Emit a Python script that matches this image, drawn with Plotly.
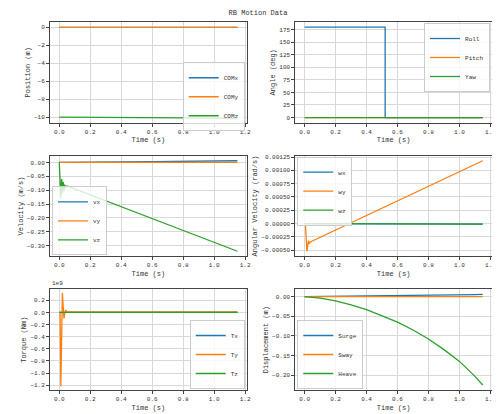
import plotly.graph_objects as go
from plotly.subplots import make_subplots

C = ['#1f77b4', '#ff7f0e', '#2ca02c']
t_lin = [0.0, 0.2, 0.4, 0.6, 0.8, 1.0, 1.15]
com_x = [0.0, 0.0, 0.0, 0.0, 0.0, 0.0, 0.0]
com_y = [0.0, 0.0, 0.0, 0.0, 0.0, 0.0, 0.0]
com_z = [-10.0, -10.0, -10.02, -10.04, -10.07, -10.11, -10.15]

t_ang = [0.0, 0.52, 0.5201, 1.15]
roll = [180, 180, 0, 0]
pitch = [0, 0, 0, 0]
yaw = [0, 0, 0, 0]

t_v = [0.0, 0.005, 0.01, 0.015, 0.02, 0.025, 0.03, 0.035, 0.04, 0.05, 0.2, 0.4, 0.6, 0.8, 1.0, 1.15]
vx = [0, 0, 0, 0, 0, 0, 0, 0, 0, 0, 0.001, 0.002, 0.003, 0.004, 0.005, 0.006]
vy = [0, 0, 0, 0, 0, 0, 0, 0, 0, 0, 0, 0, 0, 0, 0, 0]
vz = [0, -0.05, -0.13, -0.06, -0.11, -0.07, -0.10, -0.08, -0.09, -0.085, -0.117, -0.160, -0.202, -0.245, -0.288, -0.32]

t_w = [0.0, 0.005, 0.015, 0.025, 0.03, 0.04, 1.15]
wx = [0, 0, 0, 0, 0, 0, -0.00001]
wy = [0, 0, -0.00052, -0.00032, -0.00037, -0.00034, 0.00118]
wz = [0, 0, 0, 0, 0, 0, -0.00001]

t_T = [0.0, 0.005, 0.01, 0.02, 0.03, 0.04, 0.05, 0.06, 1.15]
Tx = [0, 0, 0, 0, 0, 0, 0, 0, 0]
Ty = [0, 0, -1.22, 0.32, -0.10, 0.04, 0.01, 0.01, 0.01]
Tz = [0, 0, 0, 0, 0, 0, 0, 0, 0]

t_d = [0.0, 0.1, 0.2, 0.3, 0.4, 0.5, 0.6, 0.7, 0.8, 0.9, 1.0, 1.1, 1.15]
surge = [0, 0.0003, 0.0007, 0.001, 0.0015, 0.002, 0.0025, 0.003, 0.0035, 0.004, 0.0045, 0.005, 0.0055]
sway = [0]*13
heave = [0, -0.004, -0.011, -0.021, -0.033, -0.048, -0.065, -0.085, -0.108, -0.135, -0.165, -0.203, -0.225]

F = "Liberation Mono"
fig = make_subplots(rows=3, cols=2, horizontal_spacing=0.11, vertical_spacing=0.09)
panels = [
    (1, 1, t_lin, [com_x, com_y, com_z], ['COMx', 'COMy', 'COMz'], 'Position (m)', dict(x=0.99, y=0.6, xanchor='right')),
    (1, 2, t_ang, [roll, pitch, yaw], ['Roll', 'Pitch', 'Yaw'], 'Angle (deg)', dict(x=0.99, y=0.99, xanchor='right')),
    (2, 1, t_v, [vx, vy, vz], ['vx', 'vy', 'vz'], 'Velocity (m/s)', dict(x=0.01, y=0.01, xanchor='left', yanchor='bottom')),
    (2, 2, t_w, [wx, wy, wz], ['wx', 'wy', 'wz'], 'Angular Velocity (rad/s)', dict(x=0.01, y=0.99, xanchor='left')),
    (3, 1, t_T, [Tx, Ty, Tz], ['Tx', 'Ty', 'Tz'], 'Torque (Nm)', dict(x=0.99, y=0.01, xanchor='right', yanchor='bottom')),
    (3, 2, t_d, [surge, sway, heave], ['Surge', 'Sway', 'Heave'], 'Displacement (m)', dict(x=0.01, y=0.01, xanchor='left', yanchor='bottom')),
]
for i, (r, c, t, ys, names, ylab, lg) in enumerate(panels):
    for k in range(3):
        fig.add_trace(go.Scatter(x=t, y=ys[k], mode='lines', name=names[k],
                                 line=dict(color=C[k], width=1.3), legend=f'legend{i+1 if i else ""}'), row=r, col=c)
    fig.update_xaxes(row=r, col=c, title_text='Time (s)', range=[-0.06, 1.21], dtick=0.2, tickformat='.1f')
    fig.update_yaxes(row=r, col=c, title_text=ylab)
    dom_x = fig.get_subplot(r, c).xaxis.domain
    dom_y = fig.get_subplot(r, c).yaxis.domain
    lx = dom_x[0] + lg['x'] * (dom_x[1] - dom_x[0])
    ly = dom_y[0] + lg['y'] * (dom_y[1] - dom_y[0])
    fig.update_layout(**{f'legend{i+1 if i else ""}': dict(x=lx, y=ly, xanchor=lg.get('xanchor', 'left'),
                       yanchor=lg.get('yanchor', 'top'), bgcolor='rgba(255,255,255,0.8)',
                       bordercolor='#ccc', borderwidth=1, font=dict(size=6, family=F),
                       tracegroupgap=0, itemwidth=30, entrywidth=0)})

fig.update_yaxes(row=1, col=1, range=[-10.6, 0.6], dtick=2)
fig.update_yaxes(row=3, col=1, range=[-1.28, 0.38], dtick=0.2, tickformat='.1f')
fig.update_yaxes(row=2, col=2, tickformat='.5f', dtick=0.00025)
fig.update_yaxes(row=1, col=2, dtick=25)
fig.update_yaxes(row=2, col=1, tickformat='.2f', dtick=0.05)
fig.update_yaxes(row=3, col=2, tickformat='.2f', dtick=0.05)
fig.update_xaxes(showgrid=True, gridcolor='#d9d9d9', showline=True, linecolor='#444', mirror=True,
                 ticks='outside', ticklen=3, zeroline=False, title_standoff=2, tickfont=dict(size=6))
fig.update_yaxes(showgrid=True, gridcolor='#d9d9d9', showline=True, linecolor='#444', mirror=True,
                 ticks='outside', ticklen=3, zeroline=False, title_standoff=2, tickfont=dict(size=6))
fig.add_annotation(text='1e9', xref='x5 domain', yref='y5 domain', x=0, y=1.0, xanchor='left',
                   yanchor='bottom', showarrow=False, font=dict(size=6, family=F))
fig.update_layout(width=500, height=414, plot_bgcolor='white', paper_bgcolor='white',
                  margin=dict(l=40, r=12, t=14, b=30),
                  font=dict(family=F, size=6, color='#333'),
                  title=dict(text='RB Motion Data', x=0.5, y=0.995, yanchor='top', font=dict(size=7)))
fig.write_html('out.html')
